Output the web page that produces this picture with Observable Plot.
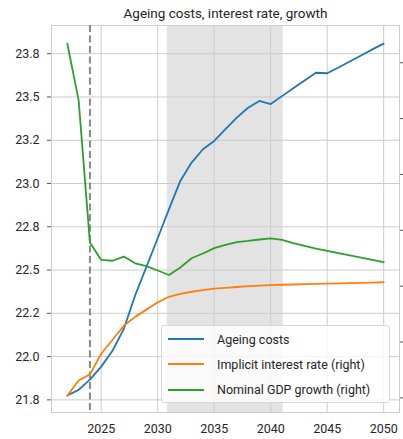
<!DOCTYPE html>
<html>
<head>
<meta charset="utf-8">
<script src="https://cdn.jsdelivr.net/npm/d3@7"></script>
<script src="https://cdn.jsdelivr.net/npm/@observablehq/plot@0.6"></script>
<style>
  html, body { margin: 0; padding: 0; background: #fff; }
  #wrap { position: relative; width: 403px; height: 439px; font-family: Roboto, "Noto Sans", sans-serif; }
  #legend { position: absolute; left: 161px; top: 325px; width: 229px; height: 78px;
    background: rgba(255,255,255,0.8); border: 1px solid #d8d8d8; border-radius: 3px; box-sizing: border-box;
    font-size: 12.5px; color: #262626; }
  .row { position: absolute; left: 6px; height: 16px; display: flex; align-items: center; }
  .row svg { margin-right: 13px; }
</style>
</head>
<body>
<div id="wrap"></div>
<script>
const years = d3.range(2022, 2051);
// Ageing costs (left axis)
const ageing = [21.775, 21.808, 21.867, 21.942, 22.034, 22.16, 22.353, 22.518, 22.684, 22.852,
  23.015, 23.121, 23.198, 23.246, 23.314, 23.381, 23.438, 23.477, 23.459, 23.505,
  23.55, 23.595, 23.64, 23.637, 23.67, 23.705, 23.74, 23.775, 23.808];
// Implicit interest rate (right axis)
const interest = [2.04, 2.31, 2.42, 2.79, 3.04, 3.29, 3.45, 3.58, 3.71, 3.81,
  3.86, 3.90, 3.93, 3.955, 3.97, 3.985, 4.0, 4.01, 4.02, 4.025,
  4.03, 4.035, 4.04, 4.045, 4.05, 4.055, 4.06, 4.065, 4.07];
// Nominal GDP growth (right axis)
const growth = [8.34, 7.33, 4.78, 4.47, 4.455, 4.53, 4.41, 4.36, 4.28, 4.20,
  4.335, 4.50, 4.585, 4.68, 4.74, 4.79, 4.81, 4.835, 4.855, 4.83,
  4.77, 4.72, 4.67, 4.63, 4.59, 4.55, 4.51, 4.47, 4.43];
const leftTicks = [21.75, 22.0, 22.25, 22.5, 22.75, 23.0, 23.25, 23.5, 23.75];
const leftTickLabels = ["21.8", "22.0", "22.2", "22.5", "22.8", "23.0", "23.2", "23.5", "23.8"];
const rightTicks = [2, 3, 4, 5, 6, 7, 8];
const xTicks = [2025, 2030, 2035, 2040, 2045, 2050];
const shadedSpan = [{x1: 2030.85, x2: 2041.1}];
const forecastStart = [2024];
const seriesNames = ["Ageing costs", "Implicit interest rate (right)", "Nominal GDP growth (right)"];
const colors = ["#1f77b4", "#ff7f0e", "#2ca02c"];

// right axis mapped onto the left scale
const toLeft = r => 21.7615 + (r - 2) * 0.32274;

const rows = [];
years.forEach((yr, i) => {
  rows.push({year: yr, v: ageing[i], s: seriesNames[0]});
  rows.push({year: yr, v: toLeft(interest[i]), s: seriesNames[1]});
  rows.push({year: yr, v: toLeft(growth[i]), s: seriesNames[2]});
});

const chart = Plot.plot({
  width: 403, height: 439,
  marginLeft: 51, marginRight: 4, marginTop: 25, marginBottom: 27,
  style: {fontFamily: "Roboto, 'Noto Sans', sans-serif", fontSize: "12.5px", color: "#262626", background: "#fff"},
  x: {domain: [2020.6, 2051.4], label: null},
  y: {domain: [21.677, 23.913], label: null},
  color: {domain: seriesNames, range: colors},
  marks: [
    Plot.rect(shadedSpan, {x1: "x1", x2: "x2", fill: "#e3e3e3"}),
    Plot.gridX(xTicks, {stroke: "#cccccc", strokeOpacity: 1}),
    Plot.gridY(leftTicks, {stroke: "#cccccc", strokeOpacity: 1}),
    Plot.frame({stroke: "#cccccc"}),
    Plot.ruleX(forecastStart, {stroke: "#888888", strokeWidth: 2, strokeDasharray: "7,3.5"}),
    Plot.line(rows, {x: "year", y: "v", z: "s", stroke: "s", strokeWidth: 1.8}),
    Plot.axisY(leftTicks, {anchor: "left", label: null, tickSize: 4, tickPadding: 8, stroke: "#555",
      tickFormat: (d, i) => leftTickLabels[i], fontSize: 12.5}),
    Plot.axisY(rightTicks.map(toLeft), {anchor: "right", label: null, tickSize: 4, stroke: "#555", tickFormat: () => ""}),
    Plot.axisX(xTicks, {label: null, tickSize: 0, tickPadding: 12, tickFormat: d => String(d), fontSize: 12.5}),
    Plot.text(["Ageing costs, interest rate, growth"], {frameAnchor: "top", dy: -12, lineAnchor: "middle", fontSize: 13.5})
  ]
});

const wrap = document.getElementById("wrap");
wrap.appendChild(chart);
const legend = document.createElement("div");
legend.id = "legend";
seriesNames.forEach((name, i) => {
  const row = document.createElement("div");
  row.className = "row";
  row.style.top = (5 + i * 25.3) + "px";
  row.innerHTML = `<svg width="36" height="4"><line x1="0" x2="36" y1="2" y2="2" stroke="${colors[i]}" stroke-width="2"/></svg><span>${name}</span>`;
  legend.appendChild(row);
});
wrap.appendChild(legend);
</script>
</body>
</html>
